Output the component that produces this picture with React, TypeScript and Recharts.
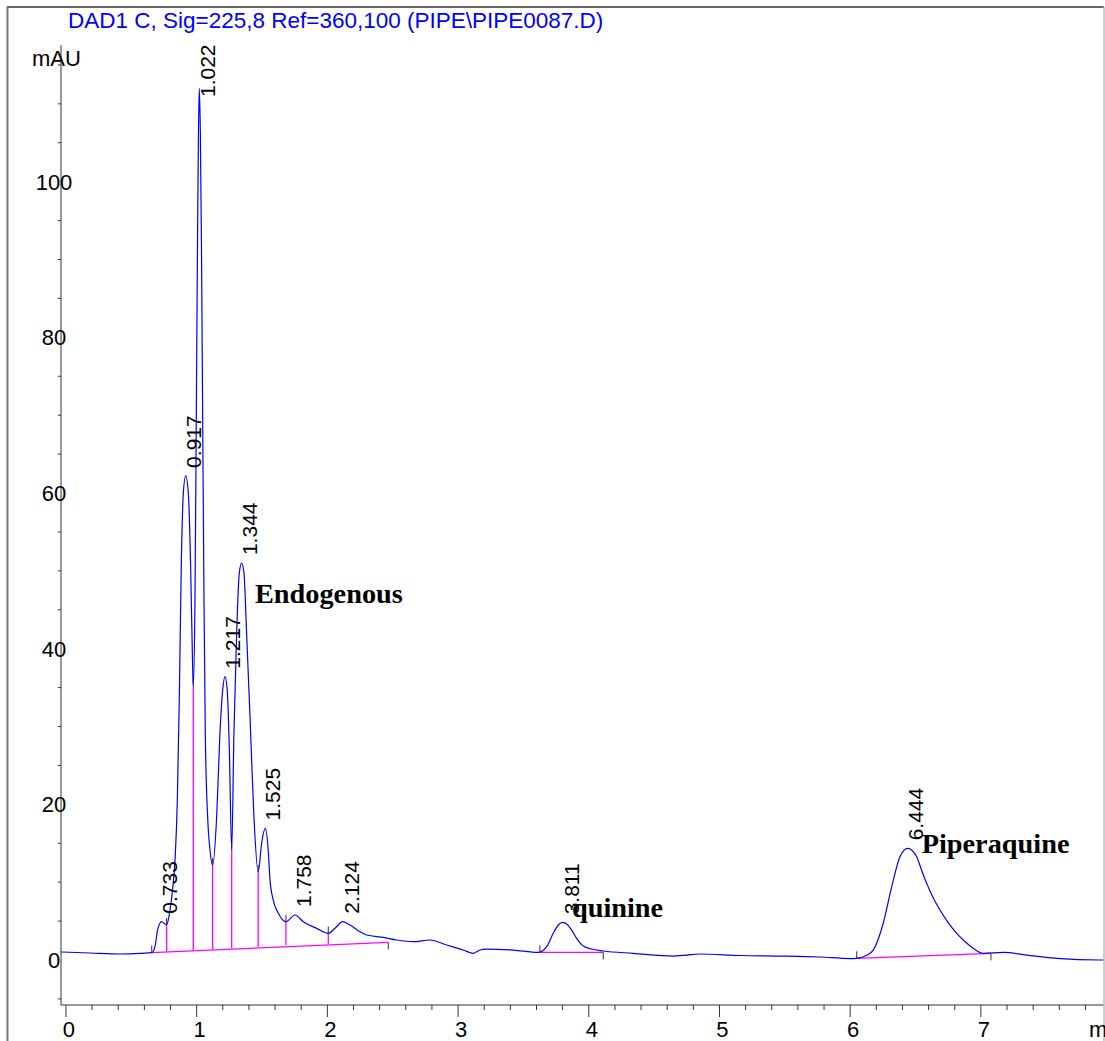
import React from 'react';
import { ComposedChart, Line, XAxis, YAxis, ReferenceLine, ReferenceDot } from 'recharts';

// ---- chromatogram trace (retention time in min, absorbance in mAU) ----
const times = [
  -0.038, 0.184, 0.413, 0.566, 0.656, 0.681, 0.701, 0.732, 0.770, 0.790, 0.815, 0.835, 0.852, 0.867, 0.882, 0.898,
  0.916, 0.936, 0.954, 0.969, 0.974, 0.987, 0.997, 1.006, 1.014, 1.020, 1.028, 1.037, 1.046, 1.056, 1.066, 1.084,
  1.102, 1.122, 1.153, 1.178, 1.199, 1.217, 1.234, 1.250, 1.268, 1.285, 1.306, 1.326, 1.344, 1.362, 1.382, 1.408,
  1.438, 1.471, 1.497, 1.525, 1.548, 1.561, 1.586, 1.625, 1.683, 1.752, 1.816, 1.918, 2.007, 2.058, 2.117, 2.173,
  2.249, 2.301, 2.428, 2.530, 2.657, 2.785, 2.913, 3.040, 3.116, 3.168, 3.219, 3.422, 3.614, 3.678, 3.728, 3.767,
  3.800, 3.831, 3.869, 3.907, 3.958, 4.022, 4.111, 4.341, 4.647, 4.749, 4.851, 5.157, 5.463, 5.769, 6.000, 6.050,
  6.120, 6.177, 6.253, 6.318, 6.381, 6.440, 6.509, 6.545, 6.585, 6.635, 6.687, 6.750, 6.815, 6.880, 6.942, 7.018,
  7.171, 7.350, 7.580, 7.911, 7.942,
];
const mAU = [
  1.03, 0.90, 0.77, 0.84, 0.94, 1.71, 3.85, 4.92, 4.50, 5.80, 9.00, 13.0, 20.5, 33.4, 50.5, 60.0,
  62.2, 60.0, 50.5, 37.7, 35.1, 46.3, 69.4, 91.2, 106.6, 112.0, 106.6, 91.2, 69.4, 46.3, 29.1, 18.4,
  14.1, 12.2, 18.4, 29.1, 34.7, 36.4, 34.7, 27.0, 14.1, 29.1, 42.0, 49.7, 51.0, 49.7, 42.0, 31.3,
  18.4, 11.3, 15.0, 16.9, 14.0, 10.3, 7.70, 6.00, 4.92, 5.78, 4.92, 4.07, 3.43, 4.07, 4.92, 4.50,
  3.64, 3.21, 2.91, 2.57, 2.35, 2.57, 1.93, 1.28, 0.86, 1.28, 1.41, 1.28, 0.98, 1.71, 3.43, 4.50,
  4.84, 4.63, 3.85, 2.79, 1.80, 1.41, 1.16, 0.86, 0.51, 0.64, 0.77, 0.58, 0.51, 0.39, 0.19, 0.22,
  0.55, 1.28, 4.72, 9.42, 13.27, 14.35, 13.27, 11.6, 9.85, 8.0, 6.42, 4.8, 3.43, 2.35, 1.50, 0.86,
  0.98, 0.64, 0.22, 0.00, 0.00,
];

// ---- integrated peaks ----
const peakTimes = [0.733, 0.917, 1.022, 1.217, 1.344, 1.525, 1.758, 2.124, 3.811, 6.444];
const peakHeights = [4.92, 62.2, 112.0, 36.4, 51.0, 16.9, 5.78, 4.92, 4.84, 14.35];
const peakLabels = ['0.733', '0.917', '1.022', '1.217', '1.344', '1.525', '1.758', '2.124', '3.811', '6.444'];

// ---- integration baselines ----
const baseStartT = [0.656, 3.626, 6.050];
const baseStartV = [0.94, 0.98, 0.22];
const baseEndT = [2.466, 4.111, 7.077];
const baseEndV = [2.27, 0.98, 0.86];

// ---- drop lines (peak splits) ----
const dropTimes = [0.770, 0.974, 1.122, 1.268, 1.471, 1.683, 2.007];
const dropBase = [1.07, 1.20, 1.37, 1.50, 1.71, 1.89, 2.10];
const dropTop = [4.50, 35.1, 12.2, 14.1, 11.3, 4.92, 3.43];

// ---- compound annotations ----
const annotTexts = ['Endogenous', 'quinine', 'Piperaquine'];
const annotTimes = [1.446, 3.871, 6.547];
const annotValues = [45.9, 5.52, 13.7];

// ---- axis ticks ----
const xTicks = [
  0, 0.2, 0.4, 0.6, 0.8, 1, 1.2, 1.4, 1.6, 1.8, 2, 2.2, 2.4, 2.6, 2.8, 3, 3.2, 3.4, 3.6, 3.8,
  4, 4.2, 4.4, 4.6, 4.8, 5, 5.2, 5.4, 5.6, 5.8, 6, 6.2, 6.4, 6.6, 6.8, 7, 7.2, 7.4, 7.6, 7.8,
];
const yTicks = [-5, 0, 5, 10, 15, 20, 25, 30, 35, 40, 45, 50, 55, 60, 65, 70, 75, 80, 85, 90, 95, 100, 105, 110, 115];

const title = 'DAD1 C, Sig=225,8 Ref=360,100 (PIPE\\PIPE0087.D)';

const SANS = "'Liberation Sans', Arial, Helvetica, sans-serif";
const SERIF = "'Liberation Serif', 'Times New Roman', serif";
const BLUE = '#0000ff';
const MAGENTA = '#ff00ff';
const AXIS = '#333333';

const W = 1105;
const H = 1041;

const chromatogram = times.map((t, i) => ({ t, v: mAU[i] }));

function XTick(props: any) {
  const { x, y, payload } = props;
  const v = payload.value as number;
  const major = Math.abs(v - Math.round(v)) < 1e-6;
  return (
    <g>
      <line x1={x} y1={y} x2={x} y2={y + (major ? 12 : 5)} stroke={AXIS} strokeWidth={1} />
      {major && (
        <text x={x + 3} y={y + 32} textAnchor="middle" fontSize={22} fontFamily={SANS} fill="#000">
          {Math.round(v)}
        </text>
      )}
    </g>
  );
}

function YTick(props: any) {
  const { x, y, payload } = props;
  const v = payload.value as number;
  const major = v % 20 === 0;
  return (
    <g>
      {!major && <line x1={x - 3} y1={y} x2={x} y2={y} stroke={AXIS} strokeWidth={1} />}
      {major && (
        <text x={x - 7} y={y + 8} textAnchor="middle" fontSize={22} fontFamily={SANS} fill="#000">
          {v}
        </text>
      )}
    </g>
  );
}

function PeakLabel(label: string) {
  return (p: any) => {
    const { cx, cy } = p;
    const bottom = Math.max(cy - 8, 97);
    return (
      <text
        transform={`translate(${cx + 15},${bottom}) rotate(-90)`}
        textAnchor="start"
        fontSize={21}
        fontFamily={SANS}
        fill="#000"
      >
        {label}
      </text>
    );
  };
}

function TickMark(dir: number) {
  return (p: any) => {
    const { cx, cy } = p;
    return <line x1={cx} y1={cy} x2={cx} y2={cy + dir * 7} stroke={AXIS} strokeWidth={1} />;
  };
}

function Annot(text: string) {
  return (p: any) => (
    <text x={p.cx} y={p.cy} fontSize={28.3} fontWeight="bold" fontFamily={SERIF} fill="#000">
      {text}
    </text>
  );
}

export default function App() {
  return (
    <div style={{ position: 'absolute', left: 0, top: 0, width: W, height: H, overflow: 'hidden', background: '#fff' }}>
      <ComposedChart
        width={W}
        height={H}
        data={chromatogram}
        margin={{ top: 45, right: 1, left: 0, bottom: 0 }}
      >
        <XAxis
          type="number"
          dataKey="t"
          domain={[-0.038, 7.942]}
          allowDataOverflow
          ticks={xTicks}
          interval={0}
          height={36}
          tickSize={0}
          tickMargin={0}
          tickLine={false}
          axisLine={{ stroke: AXIS, strokeWidth: 1 }}
          tick={(p: any) => <XTick {...p} />}
        />
        <YAxis
          type="number"
          dataKey="v"
          domain={[-5.78, 117.56]}
          allowDataOverflow
          ticks={yTicks}
          interval={0}
          width={61}
          tickSize={0}
          tickMargin={0}
          tickLine={false}
          axisLine={{ stroke: AXIS, strokeWidth: 1 }}
          tick={(p: any) => <YTick {...p} />}
        />
        {baseStartT.map((t, i) => (
          <ReferenceLine
            key={`b${i}`}
            segment={[{ x: t, y: baseStartV[i] }, { x: baseEndT[i], y: baseEndV[i] }]}
            stroke={MAGENTA}
            strokeWidth={1.3}
            ifOverflow="visible"
          />
        ))}
        {dropTimes.map((t, i) => (
          <ReferenceLine
            key={`d${i}`}
            segment={[{ x: t, y: dropBase[i] }, { x: t, y: dropTop[i] }]}
            stroke={MAGENTA}
            strokeWidth={1.3}
            ifOverflow="visible"
          />
        ))}
        <Line
          type="monotone"
          dataKey="v"
          stroke={BLUE}
          strokeWidth={1.2}
          dot={false}
          activeDot={false}
          isAnimationActive={false}
        />
        {baseStartT.map((t, i) => (
          <ReferenceDot key={`su${i}`} x={t} y={baseStartV[i]} shape={TickMark(-1)} ifOverflow="visible" />
        ))}
        {dropTimes.map((t, i) => (
          <ReferenceDot key={`du${i}`} x={t} y={dropTop[i]} shape={TickMark(-1)} ifOverflow="visible" />
        ))}
        {baseEndT.map((t, i) => (
          <ReferenceDot key={`ed${i}`} x={t} y={baseEndV[i]} shape={TickMark(1)} ifOverflow="visible" />
        ))}
        {peakTimes.map((t, i) => (
          <ReferenceDot key={`p${i}`} x={t} y={peakHeights[i]} shape={PeakLabel(peakLabels[i])} ifOverflow="visible" />
        ))}
        {annotTexts.map((s, i) => (
          <ReferenceDot key={`a${i}`} x={annotTimes[i]} y={annotValues[i]} shape={Annot(s)} ifOverflow="visible" />
        ))}
      </ComposedChart>
      <svg
        width={W}
        height={H}
        style={{ position: 'absolute', left: 0, top: 0, pointerEvents: 'none' }}
      >
        <line x1={7.5} y1={7} x2={7.5} y2={H} stroke="#777" strokeWidth={2} />
        <line x1={7} y1={7} x2={1104} y2={7} stroke="#666" strokeWidth={2} />
        <line x1={1104} y1={7} x2={1104} y2={H} stroke="#bbb" strokeWidth={1.5} />
        <text x={68} y={28} fontSize={22.5} fontFamily={SANS} fill={BLUE}>
          {title}
        </text>
        <text x={32} y={66} fontSize={22} fontFamily={SANS} fill="#000">
          mAU
        </text>
        <text x={1089} y={1037} fontSize={22} fontFamily={SANS} fill="#000">
          min
        </text>
      </svg>
    </div>
  );
}
